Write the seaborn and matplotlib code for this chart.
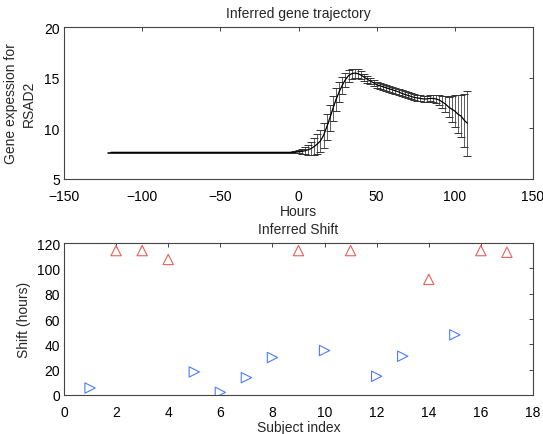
import matplotlib
matplotlib.use("Agg")
import matplotlib.pyplot as plt
import numpy as np
import seaborn as sns

# inferred trajectory (2 hour grid)
hours = [-120, -118, -116, -114, -112, -110, -108, -106, -104, -102,
         -100, -98, -96, -94, -92, -90, -88, -86, -84, -82,
         -80, -78, -76, -74, -72, -70, -68, -66, -64, -62,
         -60, -58, -56, -54, -52, -50, -48, -46, -44, -42,
         -40, -38, -36, -34, -32, -30, -28, -26, -24, -22,
         -20, -18, -16, -14, -12, -10, -8, -6, -4, -2,
         0, 2, 4, 6, 8, 10, 12, 14, 16, 18,
         20, 22, 24, 26, 28, 30, 32, 34, 36, 38,
         40, 42, 44, 46, 48, 50, 52, 54, 56, 58,
         60, 62, 64, 66, 68, 70, 72, 74, 76, 78,
         80, 82, 84, 86, 88, 90, 92, 94, 96, 98,
         100, 102, 104, 106, 108]
expr_mean = [7.63, 7.63, 7.63, 7.63, 7.63, 7.63, 7.63, 7.63, 7.63, 7.63,
             7.63, 7.63, 7.63, 7.63, 7.63, 7.63, 7.63, 7.63, 7.63, 7.63,
             7.63, 7.63, 7.63, 7.63, 7.63, 7.63, 7.63, 7.63, 7.63, 7.63,
             7.63, 7.63, 7.63, 7.63, 7.63, 7.63, 7.63, 7.63, 7.63, 7.63,
             7.63, 7.63, 7.63, 7.63, 7.63, 7.63, 7.63, 7.63, 7.63, 7.63,
             7.63, 7.63, 7.63, 7.63, 7.63, 7.63, 7.63, 7.63, 7.64, 7.66,
             7.68, 7.72, 7.78, 7.88, 8.0, 8.2, 8.45, 8.75, 9.3, 10.1,
             11.0, 11.95, 12.85, 13.6, 14.25, 14.8, 15.2, 15.4, 15.45, 15.4,
             15.25, 15.05, 14.85, 14.65, 14.5, 14.3, 14.2, 14.1, 14.0, 13.9,
             13.8, 13.7, 13.6, 13.45, 13.35, 13.25, 13.15, 13.05, 13.0, 12.95,
             12.9, 12.9, 12.95, 12.95, 12.9, 12.8, 12.6, 12.4, 12.1, 11.9,
             11.7, 11.4, 11.2, 10.8, 10.5]
expr_std = [0.05, 0.05, 0.05, 0.05, 0.05, 0.05, 0.05, 0.05, 0.05, 0.05,
            0.05, 0.05, 0.05, 0.05, 0.05, 0.05, 0.05, 0.05, 0.05, 0.05,
            0.05, 0.05, 0.05, 0.05, 0.05, 0.05, 0.05, 0.05, 0.05, 0.05,
            0.05, 0.05, 0.05, 0.05, 0.05, 0.05, 0.05, 0.05, 0.05, 0.05,
            0.05, 0.05, 0.05, 0.05, 0.05, 0.05, 0.05, 0.05, 0.05, 0.05,
            0.05, 0.05, 0.05, 0.05, 0.05, 0.05, 0.05, 0.05, 0.07, 0.1,
            0.15, 0.25, 0.35, 0.5, 0.65, 0.8, 0.95, 1.1, 1.2, 1.3,
            1.3, 1.25, 1.15, 1.0, 0.85, 0.7, 0.6, 0.5, 0.45, 0.45,
            0.4, 0.35, 0.35, 0.3, 0.3, 0.3, 0.3, 0.3, 0.3, 0.3,
            0.3, 0.3, 0.3, 0.3, 0.3, 0.3, 0.3, 0.3, 0.3, 0.3,
            0.3, 0.3, 0.3, 0.35, 0.4, 0.5, 0.6, 0.8, 1.0, 1.3,
            1.6, 1.9, 2.1, 2.6, 3.2]

# inferred shift per subject
late_subjects = [2, 3, 4, 9, 11, 14, 16, 17]
late_shift = [114, 114, 107, 114, 114, 91.3, 114, 112.7]
early_subjects = [1, 5, 6, 7, 8, 10, 12, 13, 15]
early_shift = [5.5, 18.2, 2.1, 13.7, 29.6, 35.1, 14.8, 30.6, 47.5]

sns.set_style("white")
plt.rcParams['font.family'] = ['Liberation Sans', 'DejaVu Sans']
plt.rcParams['font.size'] = 10
plt.rcParams['axes.edgecolor'] = '#444444'
plt.rcParams['axes.linewidth'] = 0.8
for a in ['xtick', 'ytick']:
	plt.rcParams[a+'.direction'] = 'in'
	plt.rcParams[a+'.major.size'] = 3
	plt.rcParams[a+'.major.width'] = 0.7
	plt.rcParams[a+'.color'] = '#444444'
	plt.rcParams[a+'.labelcolor'] = 'black'
	plt.rcParams[a+'.labelsize'] = 10
plt.rcParams['xtick.top'] = True
plt.rcParams['ytick.right'] = True

fig = plt.figure(figsize=(5.43, 4.35), dpi=100)
ax1 = fig.add_axes([64/543, 1-180/435, 469/543, 152/435])
ax2 = fig.add_axes([64/543, 1-396/435, 469/543, 152/435])

# top: trajectory with error bars
ax1.errorbar(hours, expr_mean, yerr=expr_std, color='black', ecolor='#333333',
	elinewidth=0.55, capsize=2.6, capthick=0.7, linewidth=0.9)
ax1.set_xlim(-150, 150)
ax1.set_ylim(5, 20)
ax1.set_xticks([-150, -100, -50, 0, 50, 100, 150])
ax1.set_xticklabels(['\u2212150', '\u2212100', '\u221250', '0', '50', '100', '150'])
ax1.set_yticks([5, 10, 15, 20])
ax1.set_title('Inferred gene trajectory', fontsize=10, pad=7)

# bottom: shifts
sns.scatterplot(x=late_subjects, y=late_shift, ax=ax2, marker='^', s=55,
	facecolors='none', edgecolor='#e8605a', linewidth=0.8)
sns.scatterplot(x=early_subjects, y=early_shift, ax=ax2, marker='>', s=55,
	facecolors='none', edgecolor='#4a7cff', linewidth=0.8)
ax2.set_xlim(0, 18)
ax2.set_ylim(0, 120)
ax2.set_xticks(range(0, 19, 2))
ax2.set_yticks(range(0, 121, 20))
ax2.set_title('Inferred Shift', fontsize=10, pad=7)

for ax in (ax1, ax2):
	for s in ax.spines.values():
		s.set_visible(True)
	ax.tick_params(axis='x', pad=7)
	ax.tick_params(axis='y', pad=3)

ax1.set_xlabel('Hours', labelpad=1)
ax1.set_ylabel('Gene expession for\nRSAD2', labelpad=6, linespacing=1.35)
ax2.set_xlabel('Subject index', labelpad=1)
ax2.set_ylabel('Shift (hours)', labelpad=4)

fig.savefig('out.png', dpi=100)
